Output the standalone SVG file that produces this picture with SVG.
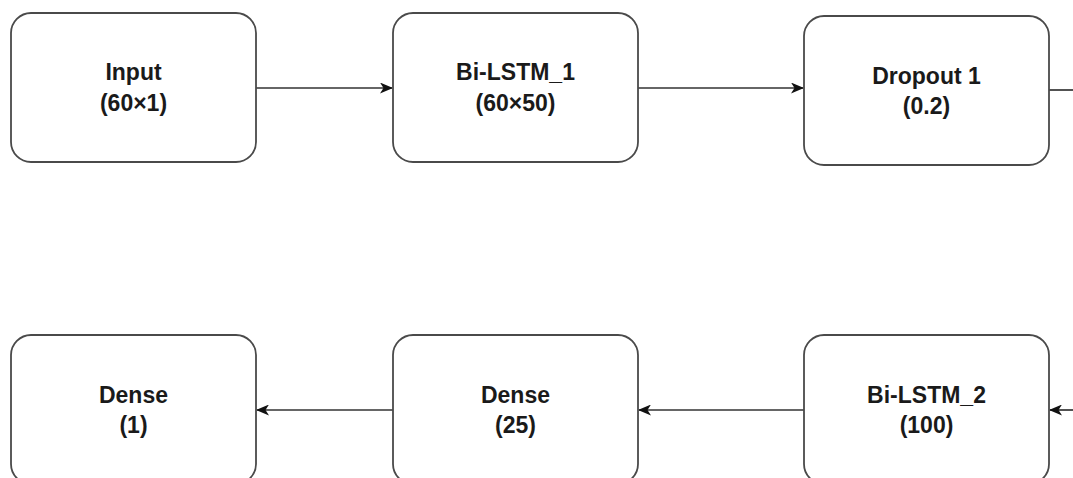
<svg xmlns="http://www.w3.org/2000/svg" width="1073" height="478" viewBox="0 0 1073 478">
  <defs>
    <style>
      .box { fill: #ffffff; stroke: #4a4a4a; stroke-width: 1.8; }
      .lbl { font-family: "Liberation Sans", Arial, sans-serif; font-weight: bold; font-size: 23px; fill: #1a1a1a; text-anchor: middle; }
      .edge { fill: none; stroke: #333333; stroke-width: 1.7; }
    </style>
    <marker id="arrow" viewBox="0 0 13 11" refX="12" refY="5.5" markerWidth="13" markerHeight="11" markerUnits="userSpaceOnUse" orient="auto">
      <path d="M0,0 L13,5.5 L0,11 L3.5,5.5 Z" fill="#111111"/>
    </marker>
  </defs>

  <rect width="1073" height="478" fill="#ffffff"/>

  <g id="connectors">
    <path class="edge" d="M256,88 L392,88" marker-end="url(#arrow)"/>
    <path class="edge" d="M638,88 L803,88" marker-end="url(#arrow)"/>
    <path class="edge" d="M1049,90 L1073,90"/>
    <path class="edge" d="M1073,410 L1050,410" marker-end="url(#arrow)"/>
    <path class="edge" d="M804,410 L639,410" marker-end="url(#arrow)"/>
    <path class="edge" d="M393,410 L257,410" marker-end="url(#arrow)"/>
  </g>

  <g id="input">
    <rect class="box" x="11" y="13" width="245" height="149" rx="20"/>
    <text class="lbl" x="133.5" y="80">Input</text>
    <text class="lbl" x="133.5" y="111">(60×1)</text>
  </g>

  <g id="bilstm1">
    <rect class="box" x="393" y="13" width="245" height="149" rx="20"/>
    <text class="lbl" x="515.5" y="80">Bi-LSTM_1</text>
    <text class="lbl" x="515.5" y="111">(60×50)</text>
  </g>

  <g id="dropout1">
    <rect class="box" x="804" y="16" width="245" height="149" rx="20"/>
    <text class="lbl" x="926.5" y="84">Dropout 1</text>
    <text class="lbl" x="926.5" y="114">(0.2)</text>
  </g>

  <g id="bilstm2">
    <rect class="box" x="804" y="335" width="245" height="149" rx="20"/>
    <text class="lbl" x="926.5" y="403">Bi-LSTM_2</text>
    <text class="lbl" x="926.5" y="433">(100)</text>
  </g>

  <g id="dense25">
    <rect class="box" x="393" y="335" width="245" height="149" rx="20"/>
    <text class="lbl" x="515.5" y="403">Dense</text>
    <text class="lbl" x="515.5" y="433">(25)</text>
  </g>

  <g id="dense1">
    <rect class="box" x="11" y="335" width="245" height="149" rx="20"/>
    <text class="lbl" x="133.5" y="403">Dense</text>
    <text class="lbl" x="133.5" y="433">(1)</text>
  </g>
</svg>
